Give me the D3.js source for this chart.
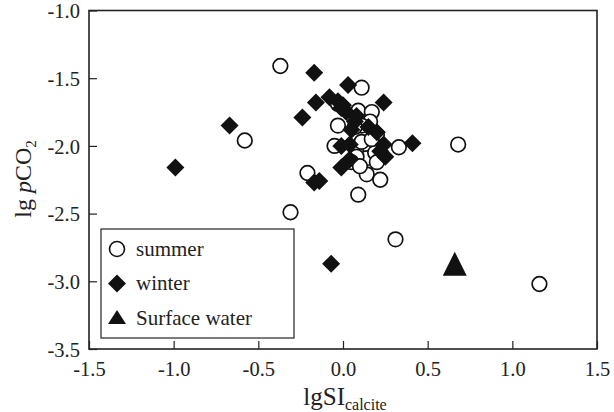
<!DOCTYPE html>
<html>
<head>
<meta charset="utf-8">
<script src="https://cdn.jsdelivr.net/npm/d3@7"></script>
<style>
  body { margin: 0; background: #fff; }
</style>
</head>
<body>
<div id="chart"></div>
<script>
// lgSI calcite (x) vs lg pCO2 (y)
const summerX = [-0.37, -0.58, -0.31, -0.21, 0.31, 0.68, 1.16, 0.11, 0.09, 0.17, 0.16, -0.03, 0.11, 0.07,
  -0.05, 0.16, 0.33, 0.11, 0.14, 0.08, 0.14, 0.22, 0.09, 0.19, -0.03, 0.05, 0.20, 0.17, 0.20, 0.10];
const summerY = [-1.41, -1.96, -2.49, -2.20, -2.69, -1.99, -3.02, -1.57, -1.74, -1.75, -1.82, -1.85, -1.85, -1.86,
  -2.00, -2.02, -2.01, -1.97, -2.09, -2.08, -2.21, -2.25, -2.36, -2.05, -1.69, -2.12, -1.92, -1.95, -2.12, -2.15];

const winterX = [-0.99, -0.67, -0.17, -0.24, -0.16, -0.08, 0.03, -0.03, -0.01, 0.02, 0.24, 0.41, 0.07,
  0.05, 0.20, 0.24, 0.25, 0.04, -0.01, 0.04, -0.01, -0.17, -0.14, -0.07, 0.00, 0.08, 0.15, 0.22];
const winterY = [-2.16, -1.85, -1.46, -1.79, -1.68, -1.64, -1.55, -1.67, -1.72, -1.75, -1.68, -1.98, -1.82,
  -1.88, -1.90, -1.99, -2.08, -1.99, -2.00, -2.10, -2.16, -2.27, -2.26, -2.87, -1.70, -1.78, -1.86, -2.04];

const surfaceX = [0.66];
const surfaceY = [-2.87];

const xTicks = [-1.5, -1.0, -0.5, 0.0, 0.5, 1.0, 1.5];
const yTicks = [-3.5, -3.0, -2.5, -2.0, -1.5, -1.0];
const legendLabels = ["summer", "winter", "Surface water"];

const serif = '"Liberation Serif", "Times New Roman", serif';

const margin = { top: 10.5, right: 17, bottom: 63, left: 89 },
  width = 614 - margin.left - margin.right,
  height = 412 - margin.top - margin.bottom;

const svg = d3.select("#chart").append("svg")
  .attr("width", 614).attr("height", 412)
  .style("font-family", serif);
const g = svg.append("g").attr("transform", `translate(${margin.left},${margin.top})`);

const x = d3.scaleLinear().domain([-1.5, 1.5]).range([0, width]);
const y = d3.scaleLinear().domain([-3.5, -1.0]).range([height, 0]);

const fmt = d => d3.format(".1f")(d).replace("−", "-");

const xAxis = g.append("g").attr("transform", `translate(0,${height})`)
  .call(d3.axisBottom(x).tickValues(xTicks).tickFormat(fmt).tickSizeInner(-8).tickSizeOuter(0).tickPadding(12));
const yAxis = g.append("g")
  .call(d3.axisLeft(y).tickValues(yTicks).tickFormat(fmt).tickSizeInner(-8).tickSizeOuter(0).tickPadding(9));

for (const ax of [xAxis, yAxis]) {
  ax.select(".domain").remove();
  ax.selectAll("line").attr("stroke", "#222").attr("stroke-width", 1.2);
  ax.selectAll("text").attr("fill", "#222")
    .style("font-family", serif).style("font-size", "20.5px");
}
yAxis.selectAll("text").attr("dy", "0.36em");

// frame
g.append("rect").attr("width", width).attr("height", height)
  .attr("fill", "none").attr("stroke", "#222").attr("stroke-width", 1.6);

const diamondPath = s => `M0,${-s}L${s},0L0,${s}L${-s},0Z`;

// summer points
g.selectAll(".summer").data(d3.range(summerX.length)).join("circle")
  .attr("class", "summer")
  .attr("cx", i => x(summerX[i])).attr("cy", i => y(summerY[i])).attr("r", 7.3)
  .attr("fill", "#fff").attr("stroke", "#111").attr("stroke-width", 1.7);

// winter points
g.selectAll(".winter").data(d3.range(winterX.length)).join("path")
  .attr("class", "winter")
  .attr("transform", i => `translate(${x(winterX[i])},${y(winterY[i])})`)
  .attr("d", diamondPath(9))
  .attr("fill", "#111");

// surface water
g.selectAll(".surface").data(d3.range(surfaceX.length)).join("path")
  .attr("class", "surface")
  .attr("transform", i => `translate(${x(surfaceX[i])},${y(surfaceY[i])})`)
  .attr("d", "M0,-12L12,12L-12,12Z")
  .attr("fill", "#111");

// legend
const lg = svg.append("g");
lg.append("rect").attr("x", 101).attr("y", 229).attr("width", 193).attr("height", 109)
  .attr("fill", "#fff").attr("stroke", "#222").attr("stroke-width", 1.2);
const rowY = [249, 283.5, 318];
lg.append("circle").attr("cx", 117).attr("cy", rowY[0]).attr("r", 7.5)
  .attr("fill", "#fff").attr("stroke", "#111").attr("stroke-width", 1.6);
lg.append("path").attr("transform", `translate(117,${rowY[1]})`)
  .attr("d", diamondPath(9)).attr("fill", "#111");
lg.append("path").attr("transform", `translate(117,${rowY[2]})`)
  .attr("d", "M0,-8L9,6L-9,6Z").attr("fill", "#111");
lg.selectAll(".lt").data(legendLabels).join("text")
  .attr("class", "lt")
  .attr("x", 136).attr("y", (d, i) => rowY[i] + 6.5)
  .attr("fill", "#222")
  .style("font-size", "21px").text(d => d);

// axis titles
const xt = svg.append("text").attr("x", 345).attr("y", 405).attr("text-anchor", "middle")
  .attr("fill", "#222").style("font-size", "25px");
xt.append("tspan").text("lgSI");
xt.append("tspan").attr("dy", 5).style("font-size", "16px").text("calcite");

const yt = svg.append("text").attr("transform", "translate(31,179) rotate(-90)")
  .attr("text-anchor", "middle").attr("fill", "#222").style("font-size", "24px");
yt.append("tspan").text("lg ");
yt.append("tspan").style("font-style", "italic").text("p");
yt.append("tspan").text("CO");
yt.append("tspan").attr("dy", 5).style("font-size", "15px").text("2");
</script>
</body>
</html>
